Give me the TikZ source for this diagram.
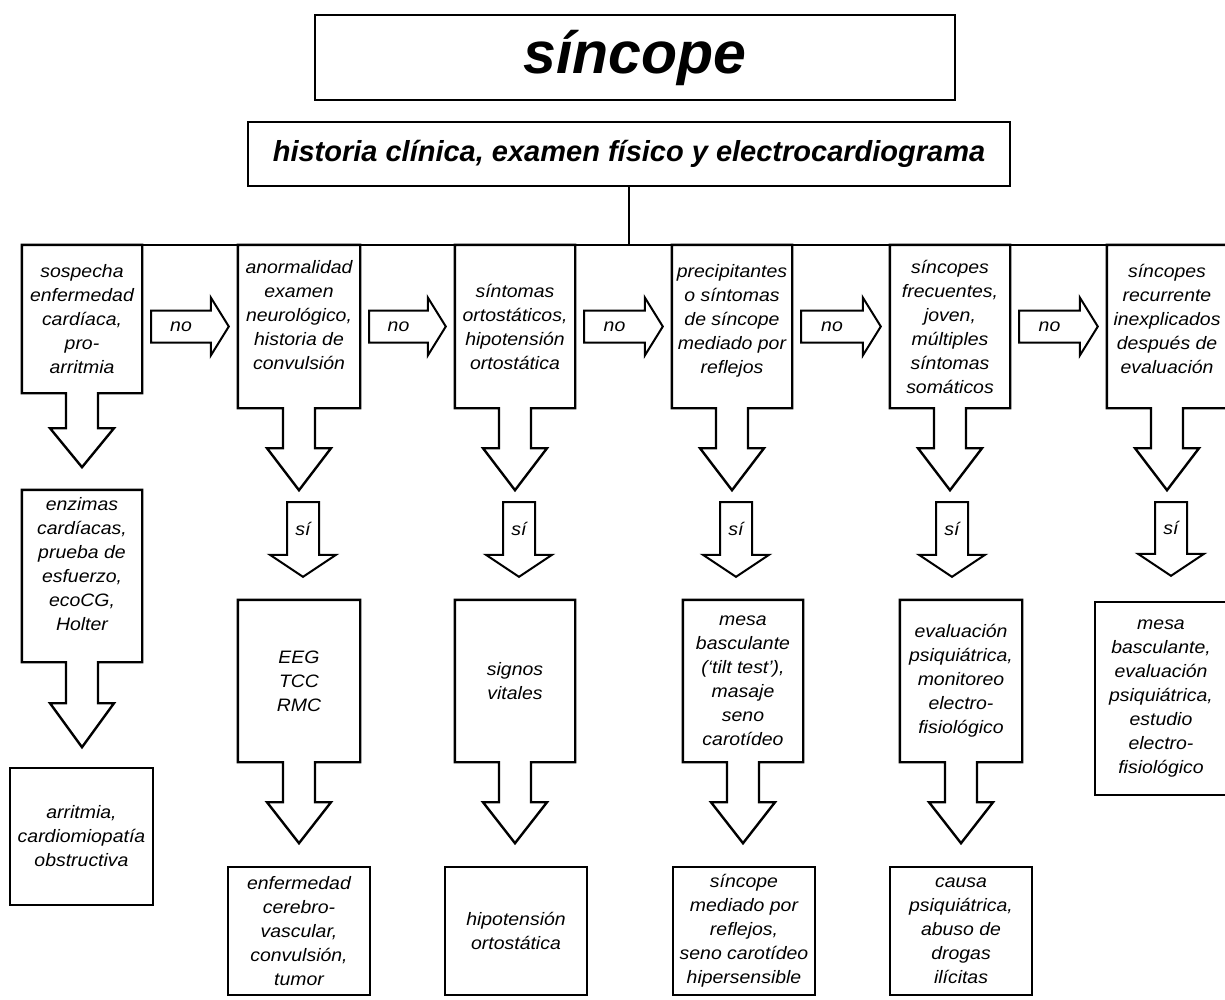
\documentclass[tikz,border=0pt]{standalone}
\usepackage{fontspec}
\setmainfont{Liberation Sans}
\newfontfamily\boxfont[FakeStretch=1.08]{Liberation Sans}
\usetikzlibrary{calc,positioning}

\tikzset{
  frame/.style={draw, line width=2.4pt},
  thinframe/.style={draw, line width=2pt},
  lbl/.style={font={\boxfont\itshape\fontsize{18}{24}\selectfont}, align=center, inner sep=0pt},
  box/.style={lbl, frame, minimum width=120, minimum height=163},
  cbox/.style={lbl, draw=none, minimum width=120, minimum height=163},
}

% box with a fat arrow hanging below it: node, shaft length, head length
\newcommand{\callout}[3]{%
  \draw[frame] (#1.north west) -- (#1.north east) -- (#1.south east)
    -- ($(#1.south)+(16,0)$) -- ($(#1.south)+(16,#2)$) -- ($(#1.south)+(32,#2)$)
    -- ($(#1.south)+(0,#2+#3)$) -- ($(#1.south)+(-32,#2)$) -- ($(#1.south)+(-16,#2)$)
    -- ($(#1.south)+(-16,0)$) -- (#1.south west) -- cycle;}

% fat arrow "no" between two boxes
\newcommand{\noarrow}[2]{%
  \draw[thinframe] let \p1=($(#1.east)+(9,0)$), \p2=($(#2.west)+(-9,0)$) in
    (\x1,\y2+16pt) -- (\x2-18pt,\y2+16pt) -- (\x2-18pt,\y2+29pt) -- (\x2,\y2)
    -- (\x2-18pt,\y2-29pt) -- (\x2-18pt,\y2-16pt) -- (\x1,\y2-16pt) -- cycle
    node[lbl] at (\x1/2+\x2/2-9pt,\y2) {no};}

% fat arrow "si" pointing down
\newcommand{\siarrow}[2]{%
  \draw[thinframe] let \p1=(#1), \p2=(#2) in
    (\x1-16pt,\y1) -- (\x1+16pt,\y1) -- (\x1+16pt,\y2+22pt) -- (\x1+33pt,\y2+22pt)
    -- (\x1,\y2) -- (\x1-33pt,\y2+22pt) -- (\x1-16pt,\y2+22pt) -- cycle
    node[lbl] at (\x1,\y1/2+\y2/2+11pt) {sí};}

\begin{document}
\begin{tikzpicture}[x=1pt, y=-1pt]
  \useasboundingbox (0,0) rectangle (1225,999);

  % head of the chart
  \node[frame, minimum width=640, minimum height=85, inner sep=0pt,
    font=\fontsize{59}{66}\selectfont\bfseries\itshape] (title) at (635,57.5) {\raisebox{-4pt}{síncope}};
  \node[frame, minimum width=762, minimum height=64, inner sep=0pt,
    font=\fontsize{29}{32}\selectfont\bfseries\itshape] (hist) at (629,154)
    {historia clínica, examen físico y electrocardiograma};

  % questions
  \node[cbox, minimum height=148] (q1) at (82,319) {sospecha\\enfermedad\\cardíaca,\\pro-\\arritmia};
  \node[cbox, minimum width=122] (q2) at (299,326.5) {anormalidad\\examen\\neurológico,\\historia de\\convulsión\\\mbox{}};
  \node[cbox] (q3) at (515,326.5) {síntomas\\ortostáticos,\\hipotensión\\ortostática};
  \node[cbox] (q4) at (732,326.5) {precipitantes\\o síntomas\\de síncope\\mediado por\\reflejos\\[-8pt]\mbox{}};
  \node[cbox] (q5) at (950,326.5) {síncopes\\frecuentes,\\joven,\\múltiples\\síntomas\\somáticos};
  \node[cbox] (q6) at (1167,326.5) {síncopes\\recurrente\\inexplicados\\después de\\evaluación\\[-8pt]\mbox{}};

  \draw[line width=1.6pt] (hist.south) -- (hist.south |- q3.north);
  \draw[frame] (q1.north west) -- (q6.north east);

  \callout{q1}{35}{39}
  \foreach \q in {q2,q3,q4,q5,q6} {\callout{\q}{40}{42}}

  \noarrow{q1}{q2}
  \noarrow{q2}{q3}
  \noarrow{q3}{q4}
  \noarrow{q4}{q5}
  \noarrow{q5}{q6}

  % studies
  \node[cbox, minimum height=172] (t1) at (82,576) {enzimas\\cardíacas,\\prueba de\\esfuerzo,\\ecoCG,\\Holter\\\mbox{}};
  \node[cbox, minimum width=122, minimum height=162] (t2) at (299,681) {EEG\\TCC\\RMC};
  \node[cbox, minimum height=162] (t3) at (515,681) {signos\\vitales};
  \node[cbox, minimum height=162] (t4) at (743,681) {mesa\\basculante\\(‘tilt test’),\\masaje\\seno\\carotídeo};
  \node[cbox, minimum width=122, minimum height=162] (t5) at (961,681) {evaluación\\psiquiátrica,\\monitoreo\\electro-\\fisiológico};
  \node[box, minimum width=132, minimum height=193] (t6) at (1161,698.5) {mesa\\basculante,\\evaluación\\psiquiátrica,\\estudio\\electro-\\fisiológico};

  \callout{t1}{41}{44}
  \foreach \t in {t2,t3,t4,t5} {\callout{\t}{40}{41}}

  \siarrow{$(q2.south)+(4,94)$}{$(t2.north)+(4,-23)$}
  \siarrow{$(q3.south)+(4,94)$}{$(t3.north)+(4,-23)$}
  \siarrow{$(q4.south)+(4,94)$}{$(t4.north)+(-6,-23)$}
  \siarrow{$(q5.south)+(2,94)$}{$(t5.north)+(0,-23)$}
  \siarrow{$(q6.south)+(4,94)$}{$(t6.north)+(0,-25)$}

  % results
  \node[box, minimum width=143, minimum height=137] (r1) at (81.5,836.5) {arritmia,\\cardiomiopatía\\obstructiva};
  \node[box, minimum width=142, minimum height=128] (r2) at (299,931) {enfermedad\\cerebro-\\vascular,\\convulsión,\\tumor};
  \node[box, minimum width=142, minimum height=128] (r3) at (516,931) {hipotensión\\ortostática};
  \node[box, minimum width=142, minimum height=128] (r4) at (744,931) {síncope\\mediado por\\reflejos,\\seno carotídeo\\hipersensible};
  \node[box, minimum width=142, minimum height=128] (r5) at (961,931) {causa\\psiquiátrica,\\abuso de\\drogas\\ilícitas};
\end{tikzpicture}
\end{document}
